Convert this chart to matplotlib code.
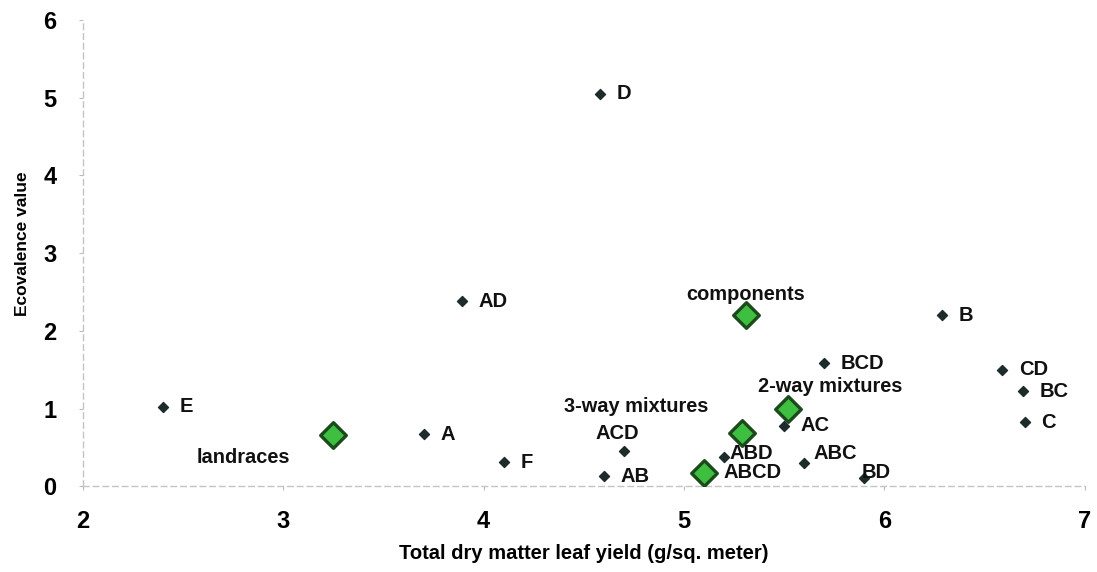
import matplotlib
matplotlib.use("Agg")
import matplotlib.pyplot as plt

plt.rcParams['font.family'] = ['Liberation Sans', 'DejaVu Sans']

# Individual entries (landraces, components, mixtures)
names = ["D", "AD", "E", "A", "F", "AB", "ACD", "ABD", "ABCD", "AC", "ABC",
         "BD", "BCD", "B", "CD", "BC", "C"]
yield_vals = [4.58, 3.89, 2.40, 3.70, 4.10, 4.60, 4.70, 5.20, 5.10, 5.50, 5.60,
              5.90, 5.70, 6.29, 6.59, 6.69, 6.70]
ecoval = [5.05, 2.38, 1.02, 0.67, 0.31, 0.13, 0.45, 0.38, 0.17, 0.78, 0.30,
          0.10, 1.58, 2.20, 1.50, 1.22, 0.82]

# Group means
groups = ["landraces", "components", "2-way mixtures", "3-way mixtures", "ABCD"]
group_yield = [3.25, 5.31, 5.52, 5.29, 5.10]
group_eco = [0.66, 2.20, 1.00, 0.68, 0.17]

# label offsets in points (dx, dy, ha)
default_off = (12, 0, "left")
label_pos = {
    "ACD": (-5, 13, "center"), "ABD": (4, 2, "left"), "ABCD": (14, 0, "left"),
    "AC": (11.5, 0, "left"), "ABC": (7, 6.5, "left"), "BD": (-2, 4, "left"),
}
group_label_pos = {
    "landraces": (-31, -16.5, "right"),
    "components": (0, 15, "center"),
    "2-way mixtures": (30, 16, "center"),
    "3-way mixtures": (-76, 19.5, "center"),
}

fig = plt.figure(figsize=(10.97, 5.72), dpi=100)
ax = fig.add_axes([0.0757, 0.150, 0.913, 0.815])

ax.scatter(yield_vals, ecoval, marker="D", s=26, color="#1d2b2b", zorder=3)
ax.scatter(group_yield, group_eco, marker="D", s=170, facecolor="#3fbf3f",
           edgecolor="#1b4a1b", linewidth=2.4, zorder=4)

for n, x, y in zip(names, yield_vals, ecoval):
    dx, dy, ha = label_pos.get(n, default_off)
    ax.annotate(n, (x, y), xytext=(dx, dy), textcoords="offset points",
                ha=ha, va="center", fontsize=14.5, fontweight="bold",
                color="#111111", zorder=5)
for g, x, y in zip(groups, group_yield, group_eco):
    if g in group_label_pos:
        dx, dy, ha = group_label_pos[g]
        ax.annotate(g, (x, y), xytext=(dx, dy), textcoords="offset points",
                    ha=ha, va="center", fontsize=14.4, fontweight="bold",
                    color="#111111", zorder=5)

ax.set_xlim(2, 7)
ax.set_ylim(0, 6)
ax.set_xticks(range(2, 8))
ax.set_yticks(range(0, 7))
for s in ["top", "right"]:
    ax.spines[s].set_visible(False)
for s in ["left", "bottom"]:
    ax.spines[s].set_color("#c4c4c4")
    ax.spines[s].set_linestyle((0, (4, 3)))
    ax.spines[s].set_linewidth(1.0)
ax.tick_params(axis="both", length=3, color="#bbbbbb", labelsize=17)
for lab in ax.get_xticklabels() + ax.get_yticklabels():
    lab.set_fontweight("bold")
ax.tick_params(axis="x", pad=14)
ax.tick_params(axis="y", pad=16)

ax.set_xlabel("Total dry matter leaf yield (g/sq. meter)", fontsize=14.5,
              fontweight="bold", labelpad=8)
ax.set_ylabel("Ecovalence value", fontsize=12.5, fontweight="bold")
ax.yaxis.set_label_coords(-0.053, 0.52)

fig.savefig("out.png", dpi=100)
